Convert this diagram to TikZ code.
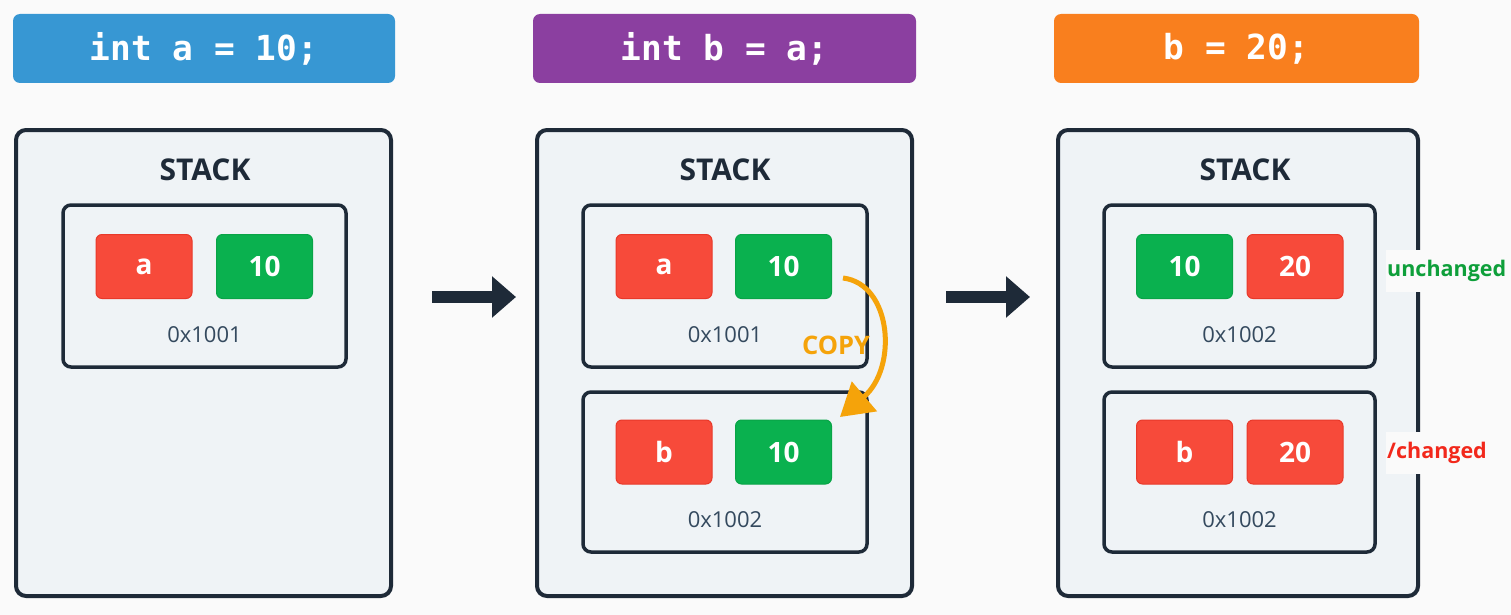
\documentclass[tikz,border=0pt]{standalone}
\usepackage{fontspec}
\setmainfont{Open Sans}
\setmonofont{DejaVu Sans Mono}
\usetikzlibrary{arrows.meta}
\definecolor{bgc}{HTML}{FAFAFA}
\definecolor{hblue}{HTML}{3797D3}
\definecolor{hpurple}{HTML}{8B3FA0}
\definecolor{horange}{HTML}{F97F1E}
\definecolor{stroke}{HTML}{1E2A38}
\definecolor{stackfill}{HTML}{EFF3F6}
\definecolor{cred}{HTML}{F74A3A}
\definecolor{credd}{HTML}{E8392A}
\definecolor{cgreen}{HTML}{0AB14F}
\definecolor{cgreend}{HTML}{09A447}
\definecolor{addrc}{HTML}{34495E}
\definecolor{copyc}{HTML}{F5A30A}
\definecolor{lgreen}{HTML}{0E9F3A}
\definecolor{lred}{HTML}{F2281B}
\begin{document}
\begin{tikzpicture}[x=1pt,y=-1pt,
  header/.style={rounded corners=7pt, minimum height=69pt, text=white,
    font=\fontsize{34.5}{38}\selectfont\ttfamily\bfseries, inner sep=0pt},
  stackbox/.style={draw=stroke, line width=4pt, fill=stackfill, rounded corners=10pt,
    minimum width=375pt, minimum height=466pt, inner sep=0pt},
  stacklbl/.style={text=stroke, font=\fontsize{30}{34}\selectfont\bfseries},
  memcell/.style={draw=stroke, line width=3.5pt, fill=stackfill, rounded corners=8pt,
    minimum height=162pt, inner sep=0pt},
  valcell/.style={rounded corners=6pt, minimum width=96pt, minimum height=64pt,
    text=white, font=\fontsize{28}{32}\selectfont\bfseries, inner sep=0pt, line width=1pt},
  redcell/.style={valcell, fill=cred, draw=credd},
  greencell/.style={valcell, fill=cgreen, draw=cgreend},
  addr/.style={text=addrc, font=\fontsize{22}{26}\selectfont},
  bigarrow/.style={draw=stroke, line width=12pt, -{Triangle[length=24pt,width=40pt]}},
  copyarrow/.style={draw=copyc, line width=5pt, -{Triangle[length=32pt,width=38pt]}},
  note/.style={font=\fontsize{21.5}{24}\selectfont\bfseries, fill=bgc, anchor=west,
    inner xsep=1pt, inner ysep=10pt}
]
\fill[bgc] (0,0) rectangle (1511,615);
\useasboundingbox (0,0) rectangle (1511,615);

% headers
\node[header, fill=hblue, minimum width=382pt] (h1) at (204,48.5) {int a = 10;};
\node[header, fill=hpurple, minimum width=383pt] (h2) at (724.5,48.5) {int b = a;};
\node[header, fill=horange, minimum width=365pt] (h3) at (1236.5,48.5) {b = 20;};

% stacks
\node[stackbox] (s1) at (203.5,363) {};
\node[stackbox] (s2) at (724.5,363) {};
\node[stackbox, minimum width=360pt] (s3) at (1238,363) {};

\node[stacklbl] (t1) at (205,170) {STACK};
\node[stacklbl] (t2) at (725,170) {STACK};
\node[stacklbl] (t3) at (1245,170) {STACK};

% panel 1
\node[memcell, minimum width=283pt] (m1) at (204.5,286) {};
\node[redcell] (p1a) at (144,266.5) {a};
\node[greencell] (p1v) at (264.5,266.5) {10};
\node[addr] (p1ad) at (204.5,335) {0x1001};

% panel 2
\node[memcell, minimum width=284pt] (m2a) at (725,286) {};
\node[redcell] (p2a) at (664,266.5) {a};
\node[greencell] (p2av) at (783.5,266.5) {10};
\node[addr] (p2aad) at (725,335) {0x1001};
\node[memcell, minimum width=284pt, minimum height=160pt] (m2b) at (725,472) {};
\node[redcell] (p2b) at (664,452) {b};
\node[greencell] (p2bv) at (783.5,452) {10};
\node[addr] (p2bad) at (725,520) {0x1002};

% panel 3
\node[memcell, minimum width=271pt] (m3a) at (1239.5,286) {};
\node[greencell] (p3a) at (1184.5,266.5) {10};
\node[redcell] (p3av) at (1295,266.5) {20};
\node[addr] (p3aad) at (1239.5,335) {0x1002};
\node[memcell, minimum width=271pt, minimum height=160pt] (m3b) at (1239.5,472) {};
\node[redcell] (p3b) at (1184.5,452) {b};
\node[redcell] (p3bv) at (1295,452) {20};
\node[addr] (p3bad) at (1239.5,520) {0x1002};

\node[note, text=lgreen] (n1) at (1386,271) {unchanged};
\node[note, text=lred] (n2) at (1386,453) {/changed};

% arrows between panels
\coordinate (a1s) at (432,297);
\coordinate (a1e) at (516,297);
\coordinate (a2s) at (946,297);
\coordinate (a2e) at (1030,297);
\draw[bigarrow] (a1s) -- (a1e);
\draw[bigarrow] (a2s) -- (a2e);

% copy arrow
\coordinate (cs) at (843,278);
\coordinate (ce) at (840,417);
\draw[copyarrow] (cs) .. controls (892,284) and (898,368) .. (ce);
\node[text=copyc, font=\fontsize{25.5}{28}\selectfont\bfseries] (cp) at (836,345) {COPY};
\end{tikzpicture}
\end{document}
